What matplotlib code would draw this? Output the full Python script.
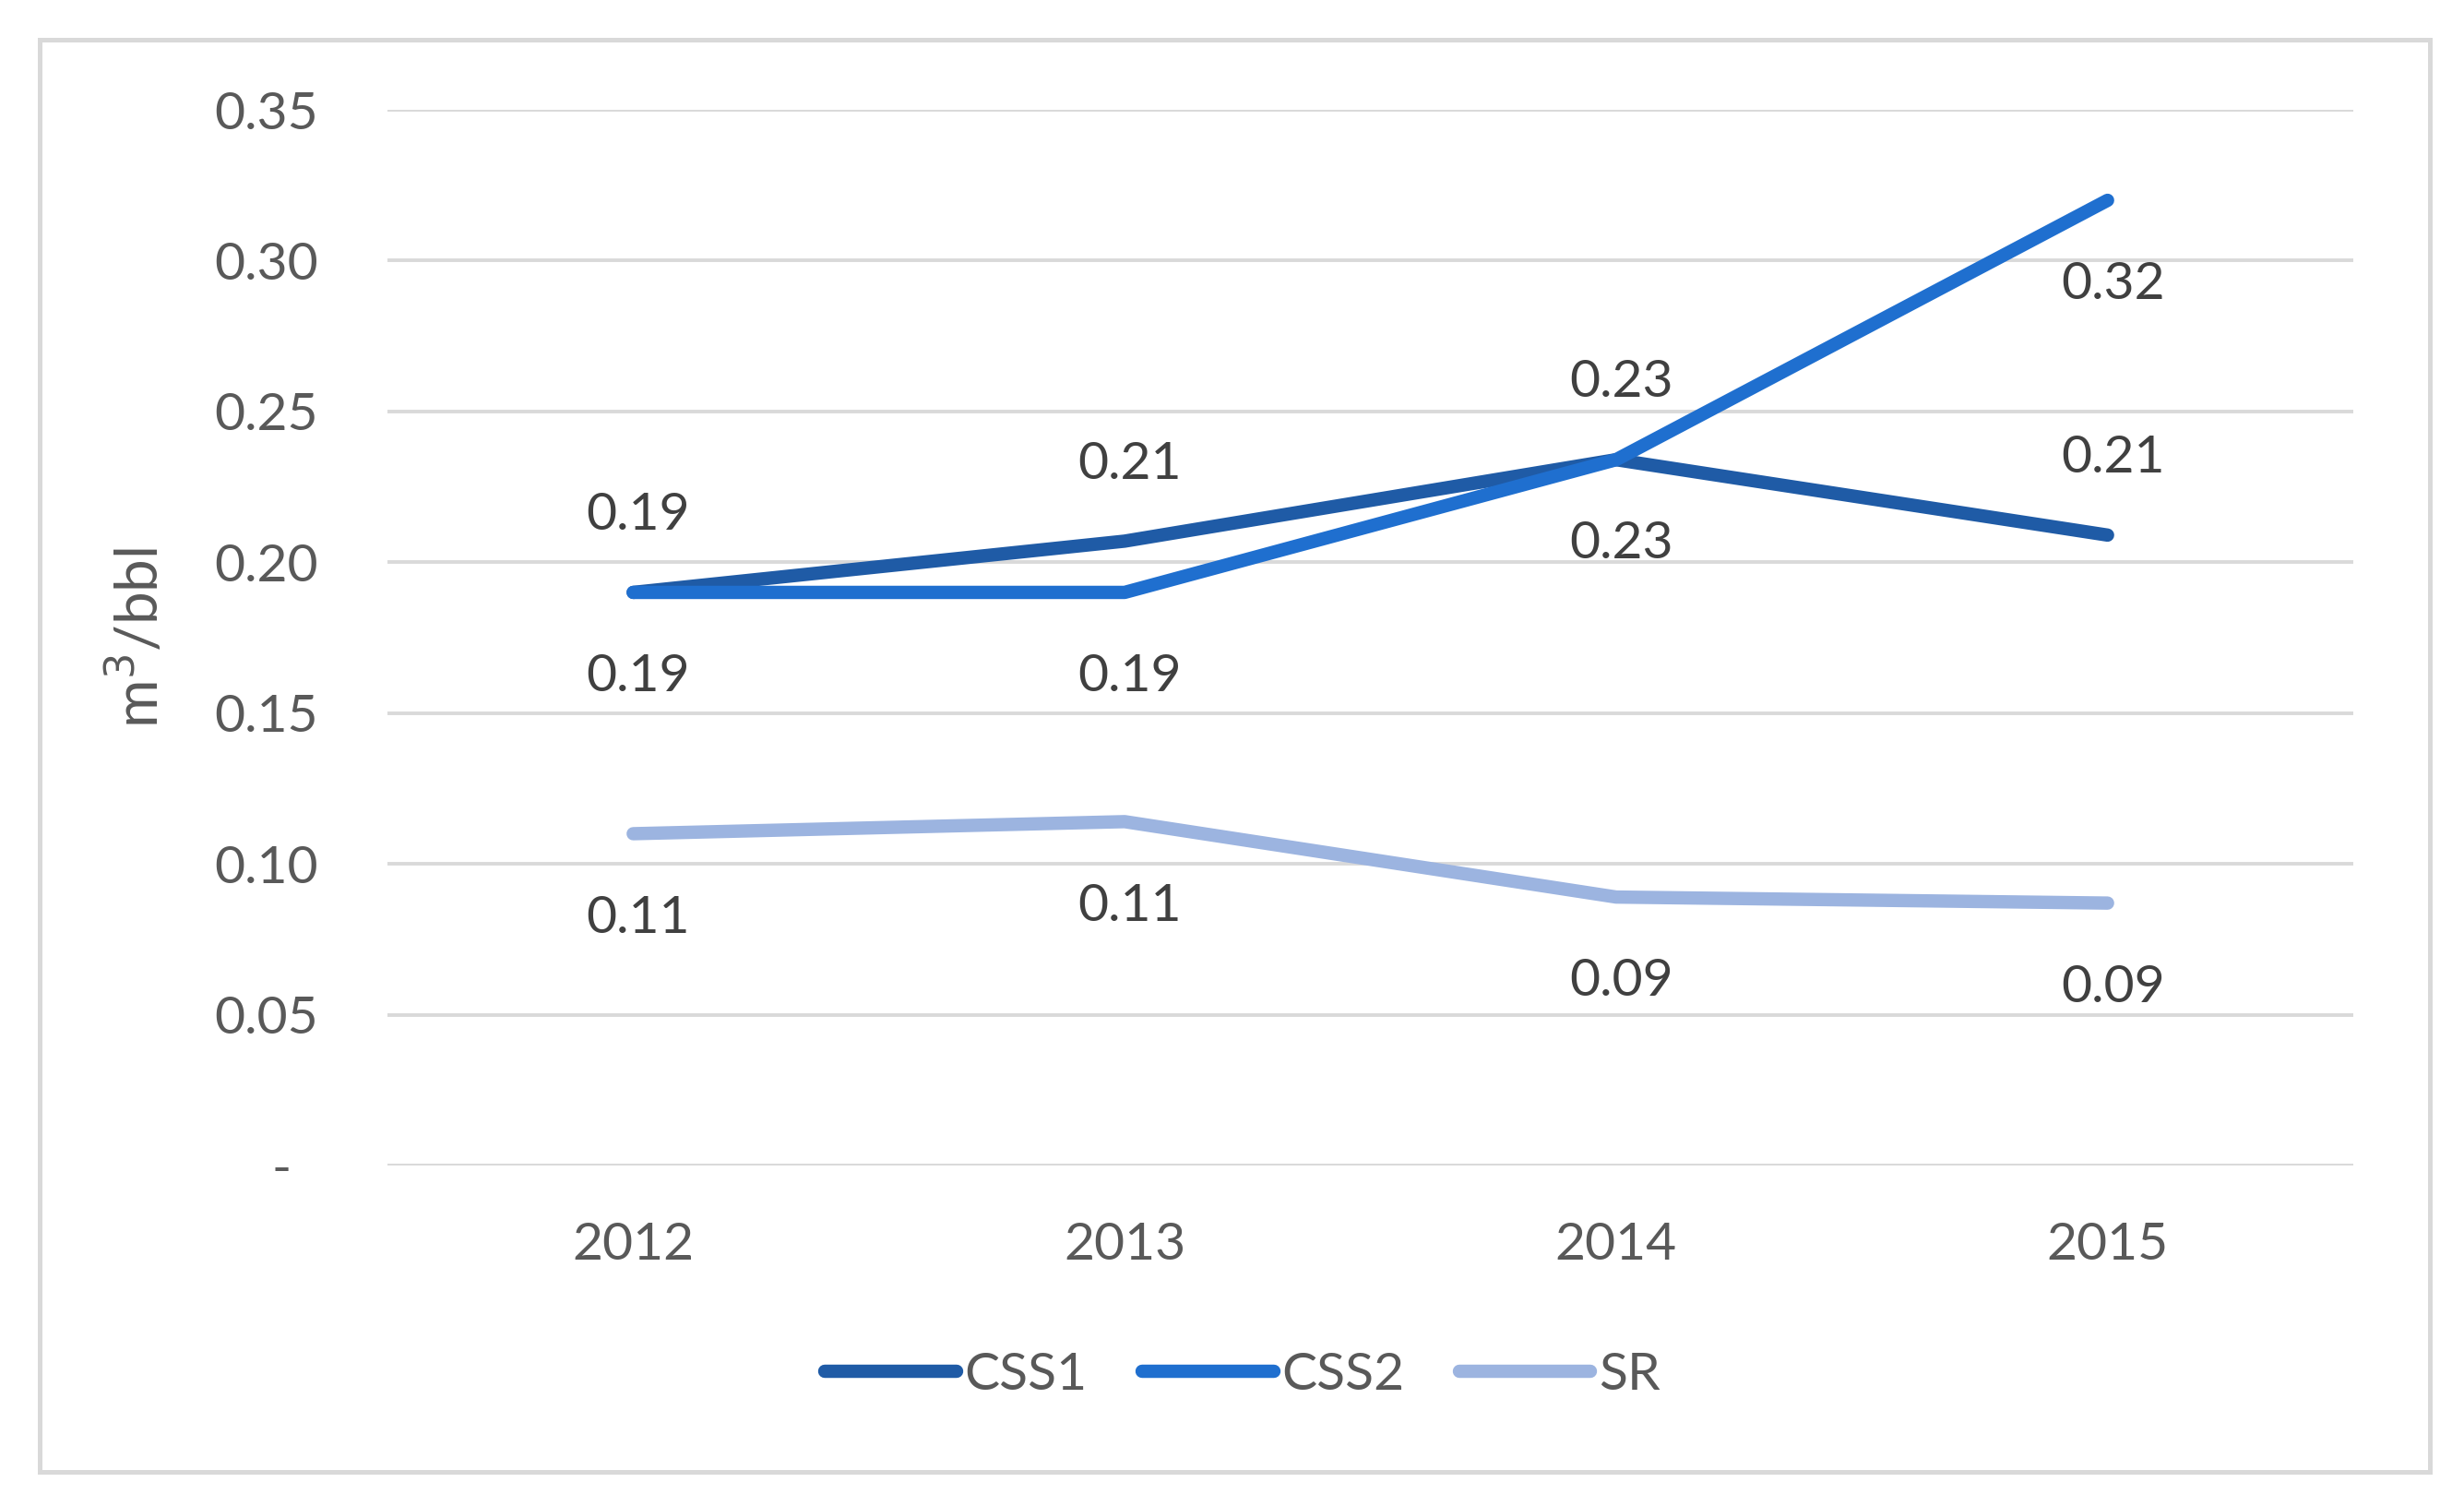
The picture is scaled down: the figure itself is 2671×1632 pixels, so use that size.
import matplotlib.pyplot as plt
from matplotlib.patches import Rectangle

years = ['2012', '2013', '2014', '2015']
css1 = [0.190, 0.207, 0.234, 0.209]
css2 = [0.190, 0.190, 0.234, 0.320]
sr = [0.110, 0.114, 0.089, 0.087]
y_ticks = [0, 0.05, 0.10, 0.15, 0.20, 0.25, 0.30, 0.35]
y_labels = ['-  ', '0.05', '0.10', '0.15', '0.20', '0.25', '0.30', '0.35']

plt.rcParams['font.family'] = ['Lato', 'DejaVu Sans']

fig = plt.figure(figsize=(13.355, 8.16), dpi=200)
ax = fig.add_axes([420 / 2671, 1 - 1263 / 1632, (2551 - 420) / 2671, (1263 - 119) / 1632])

# outer light grey frame
fig.patches.append(Rectangle((43 / 2671, 1 - 1595 / 1632), (2634 - 43) / 2671, (1595 - 43) / 1632,
                             transform=fig.transFigure, fill=False, edgecolor='#d9d9d9', linewidth=1.8))

x = list(range(len(years)))
series = [
    ('CSS1', css1, '#1f5ba6', 'above'),
    ('CSS2', css2, '#1f6fcf', 'below'),
    ('SR', sr, '#9cb4e0', 'below'),
]
for name, vals, color, pos in series:
    ax.plot(x, vals, color=color, linewidth=5.2, solid_capstyle='round', label=name, zorder=3)
    for xi, v in zip(x, vals):
        off = 30 if pos == 'above' else -33
        ax.annotate(f'{v:.2f}', (xi, v), xytext=(2, off), textcoords='offset points',
                    ha='center', va='center', fontsize=20.5, color='#404040')

ax.set_xlim(-0.5, 3.5)
ax.set_ylim(0, 0.35)
ax.set_xticks(x)
ax.set_xticklabels(years)
ax.set_yticks(y_ticks)
ax.set_yticklabels(y_labels)
ax.tick_params(axis='both', length=0, labelsize=20.5, labelcolor='#595959')
ax.tick_params(axis='y', pad=27)
ax.tick_params(axis='x', pad=22)
ax.grid(axis='y', color='#d9d9d9', linewidth=1.4)
ax.set_axisbelow(True)
for s in ax.spines.values():
    s.set_visible(False)

ax.set_ylabel('m$^3$/bbl', fontsize=23, color='#595959', labelpad=18)

fig.legend(loc='center', bbox_to_anchor=(1347 / 2671, 1 - 1490 / 1632), ncol=3, frameon=False,
           fontsize=20.5, labelcolor='#595959', handlelength=2.5, handletextpad=0.15,
           columnspacing=1.05)

fig.savefig('out.png', dpi=200, facecolor='white')
